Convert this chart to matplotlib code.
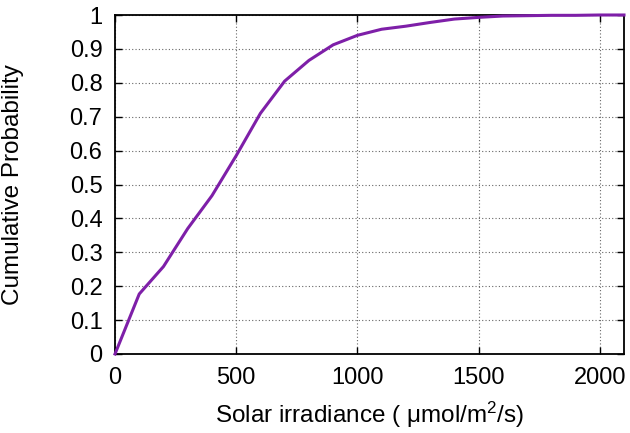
import numpy as np
import matplotlib
matplotlib.use('Agg')
import matplotlib.pyplot as plt

plt.rcParams['font.family'] = ['Liberation Sans', 'DejaVu Sans']
plt.rcParams['mathtext.fontset'] = 'custom'
plt.rcParams['mathtext.rm'] = 'Liberation Sans'
plt.rcParams['mathtext.it'] = 'Liberation Sans'

# irradiance values and cumulative probability
irradiance = [0, 100, 200, 300, 400, 500, 600, 700, 800, 900, 1000, 1100,
              1200, 1300, 1400, 1500, 1600, 1700, 1800, 1900, 2000, 2100]
cum_prob = [0.0, 0.177, 0.258, 0.37, 0.467, 0.585, 0.71, 0.805, 0.866, 0.912,
            0.94, 0.958, 0.967, 0.978, 0.988, 0.993, 0.997, 0.998, 0.999,
            0.999, 1.0, 1.0]
x_ticks = [0, 500, 1000, 1500, 2000]
y_ticks = [0, 0.1, 0.2, 0.3, 0.4, 0.5, 0.6, 0.7, 0.8, 0.9, 1]
y_labels = ['0', '0.1', '0.2', '0.3', '0.4', '0.5', '0.6', '0.7', '0.8', '0.9', '1']

fig = plt.figure(figsize=(6.3, 4.33), dpi=100)
ax = fig.add_axes([115/630, 1 - 354/433, (624-115)/630, (354-15)/433])

ax.plot(irradiance, cum_prob, color='#7e1fa8', lw=2.2, clip_on=False, zorder=3)

ax.set_xlim(0, 2100)
ax.set_ylim(0, 1)
ax.set_xticks(x_ticks)
ax.set_yticks(y_ticks)
ax.set_yticklabels(y_labels)
ax.tick_params(direction='in', length=5, width=1, top=True, right=True,
               labelsize=17, pad=9, colors='black')
ax.grid(True, color='#666666', linestyle=(0, (1, 2)), linewidth=0.8)
for s in ax.spines.values():
    s.set_linewidth(1.3)

ax.set_xlabel('Solar irradiance ( $\\mathrm{\\mu}$mol/m$^2$/s)', fontsize=17.5, labelpad=8)
ax.set_ylabel('Cumulative Probability', fontsize=17.5, labelpad=33)

fig.savefig('out.png', dpi=100)
